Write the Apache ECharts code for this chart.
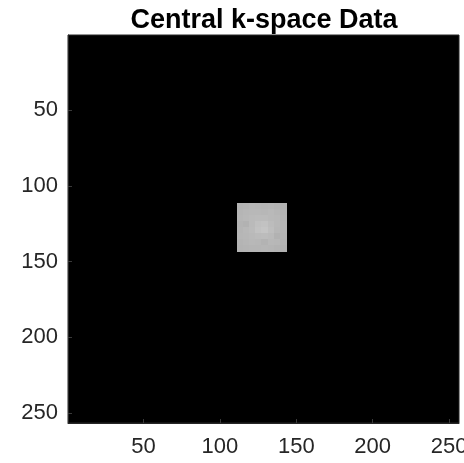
<!DOCTYPE html>
<html>
<head>
<meta charset="utf-8">
<script src="https://cdn.jsdelivr.net/npm/echarts@6/dist/echarts.min.js"></script>
<style>html,body{margin:0;padding:0;background:#fff}#c{width:464px;height:463px}</style>
</head>
<body>
<div id="c"></div>
<script>
// Image size (pixels) of the k-space matrix
var imageSize = 256;
// Tick labels
var xTicks = [50, 100, 150, 200, 250];
var yTicks = [50, 100, 150, 200, 250];
// Central block: first pixel index (1-based) and block edge in pixels
var squareStart = 112;
var blockSize = 4;
// Estimated gray levels (0-255) of the central 32x32 region, in 8x8 blocks, rows top→bottom
var row0 = [180, 181, 183, 182, 181, 182, 180, 179];
var row1 = [181, 183, 184, 184, 183, 185, 182, 180];
var row2 = [182, 184, 186, 187, 187, 185, 184, 181];
var row3 = [180, 178, 186, 192, 194, 188, 184, 182];
var row4 = [181, 184, 187, 194, 197, 190, 183, 182];
var row5 = [182, 183, 185, 187, 188, 186, 178, 181];
var row6 = [180, 182, 184, 183, 179, 184, 183, 180];
var row7 = [179, 180, 181, 181, 182, 181, 179, 178];
var blockRows = [row0, row1, row2, row3, row4, row5, row6, row7];

var data = [];
blockRows.forEach(function (row, r) {
  row.forEach(function (v, c) {
    data.push([squareStart + c * blockSize, squareStart + r * blockSize, v]);
  });
});

var chart = echarts.init(document.getElementById('c'), null, {renderer: 'canvas'});
var font = '"Liberation Sans", Arial, Helvetica, sans-serif';
chart.setOption({
  backgroundColor: '#ffffff',
  animation: false,
  title: {
    text: 'Central k-space Data',
    left: 259,
    textAlign: 'center',
    top: 2,
    textStyle: {fontFamily: font, fontSize: 27, fontWeight: 'bold', color: '#000'}
  },
  grid: {
    left: 68, top: 35, width: 391, height: 388,
    outerBoundsMode: 'none', containLabel: false,
    show: true, backgroundColor: '#000', borderColor: '#262626', borderWidth: 1
  },
  xAxis: {
    type: 'value', min: 0.5, max: imageSize + 0.5,
    splitLine: {show: false},
    axisLine: {show: true, lineStyle: {color: '#262626'}},
    axisTick: {show: true, inside: true, length: 4, customValues: xTicks, lineStyle: {color: '#3a3a3a'}},
    axisLabel: {customValues: xTicks, margin: 13, fontFamily: font, fontSize: 22, color: '#262626'}
  },
  yAxis: {
    type: 'value', min: 0.5, max: imageSize + 0.5, inverse: true,
    splitLine: {show: false},
    axisLine: {show: true, lineStyle: {color: '#262626'}},
    axisTick: {show: true, inside: true, length: 4, customValues: yTicks, lineStyle: {color: '#3a3a3a'}},
    axisLabel: {customValues: yTicks, margin: 10, fontFamily: font, fontSize: 22, color: '#262626'}
  },
  series: [{
    type: 'custom',
    data: data,
    encode: {x: 0, y: 1},
    renderItem: function (params, api) {
      var x0 = api.value(0) - 0.5, y0 = api.value(1) - 0.5;
      var p1 = api.coord([x0, y0]);
      var p2 = api.coord([x0 + blockSize, y0 + blockSize]);
      var g = Math.round(api.value(2));
      var c = 'rgb(' + g + ',' + g + ',' + g + ')';
      var xa = Math.floor(p1[0]), ya = Math.floor(p1[1]);
      var xb = Math.ceil(p2[0]), yb = Math.ceil(p2[1]);
      return {
        type: 'rect',
        shape: {x: xa, y: ya, width: xb - xa, height: yb - ya},
        style: {fill: c, stroke: null}
      };
    }
  }]
});
</script>
</body>
</html>
